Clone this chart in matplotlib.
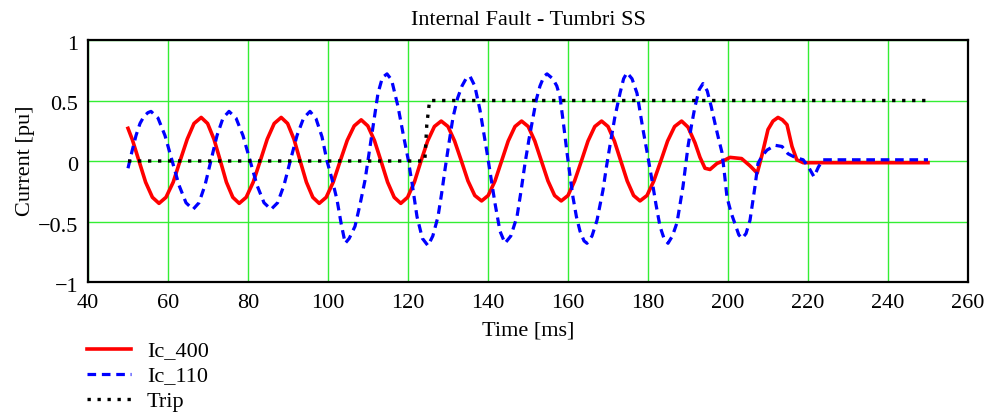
import matplotlib
matplotlib.use("Agg")
import matplotlib.pyplot as plt
from matplotlib.transforms import ScaledTranslation

plt.rcParams['font.family'] = ['Liberation Serif', 'DejaVu Serif']

# ---- data ----
t_ic400 = [50, 51.1, 52.75, 54.4, 56.1, 57.75,
           59.5, 61.3, 63.0, 64.8, 66.5, 68.3,
           69.9, 71.5, 73.1, 74.6, 76.2, 77.8,
           79.55, 81.3, 83.05, 84.8, 86.55, 88.3,
           89.9, 91.5, 93.05, 94.6, 96.2, 97.8,
           99.55, 101.3, 103.05, 104.8, 106.55, 108.3,
           109.95, 111.6, 113.25, 114.9, 116.55, 118.2,
           119.9, 121.6, 123.25, 124.9, 126.6, 128.3,
           130.0, 131.65, 133.35, 135.0, 136.7, 138.4,
           140.05, 141.75, 143.4, 145.05, 146.75, 148.4,
           150.05, 151.7, 153.35, 155.0, 156.65, 158.3,
           160.0, 161.65, 163.35, 165.0, 166.7, 168.4,
           170.0, 171.6, 173.2, 174.8, 176.4, 178.0,
           179.75, 181.45, 183.2, 184.9, 186.65, 188.4,
           190.0, 191.75, 193.0, 194.25, 195.5, 197.25, 198.75, 200.5, 203.4,
           205.5, 207.3, 208.5, 210.0, 211.25, 212.5, 213.6, 214.75, 216.0,
           217.2, 218.8, 250]
ic400 = [0.27, 0.175, 0.0, -0.175, -0.30, -0.35,
         -0.30, -0.175, 0.0, 0.18, 0.31, 0.36,
         0.31, 0.18, 0.0, -0.175, -0.30, -0.35,
         -0.30, -0.175, 0.0, 0.18, 0.31, 0.36,
         0.31, 0.18, 0.0, -0.175, -0.30, -0.35,
         -0.30, -0.175, 0.0, 0.17, 0.29, 0.34,
         0.29, 0.17, 0.0, -0.175, -0.30, -0.35,
         -0.30, -0.175, 0.0, 0.165, 0.285, 0.33,
         0.285, 0.165, 0.0, -0.165, -0.285, -0.33,
         -0.285, -0.165, 0.0, 0.165, 0.285, 0.33,
         0.285, 0.165, 0.0, -0.165, -0.285, -0.33,
         -0.285, -0.165, 0.0, 0.165, 0.285, 0.33,
         0.285, 0.165, 0.0, -0.165, -0.285, -0.33,
         -0.285, -0.165, 0.0, 0.165, 0.285, 0.33,
         0.28, 0.15, 0.03, -0.06, -0.07, -0.02, 0.0, 0.03, 0.02,
         -0.04, -0.10, 0.05, 0.26, 0.33, 0.36, 0.34, 0.30, 0.12,
         0.01, -0.014, -0.014]

t_ic110 = [50, 51, 52, 53, 54, 55, 55.75,
           57.5, 59.25, 61.0, 62.75, 64.5, 66.25,
           67.75, 69.25, 70.75, 72.25, 73.75, 75.25,
           77.0, 78.75, 80.5, 82.25, 84.0, 85.75,
           87.4, 89.0, 90.6, 92.25, 93.9, 95.5,
           97.0, 98.5, 99.75, 101.0, 102.25, 103.3, 104.3,
           105.3, 106.75, 108.0, 109.25, 110.25, 111.25, 112.5, 113.6, 114.75,
           115.9, 117.5, 118.75, 120.0, 121.0, 122.25, 123.6, 125.0,
           126.2, 127.5, 128.4, 129.25, 130.25, 131.25, 132.4, 133.5, 134.5, 135.5,
           136.7, 138.0, 139.0, 139.75, 140.8, 141.75, 143.0, 144.25,
           145.7, 147.25, 148.25, 149.25, 150.25, 151.25, 152.1, 153.0, 154.0, 154.75,
           156.2, 157.2, 158.0, 158.9, 159.75, 160.5, 161.25, 162.1, 163.0, 164.0, 164.75,
           166.0, 167.25, 168.75, 169.6, 170.5, 171.7, 173.0, 173.9, 174.75,
           176.0, 177.25, 178.75, 179.9, 181.0, 182.0, 183.0, 184.0, 185.0,
           186.1, 187.25, 188.75, 190.0, 190.9, 191.75, 192.8, 193.75,
           194.8, 195.8, 196.75, 197.6, 198.5, 199.1, 199.75, 200.8, 201.75, 202.7, 203.5,
           204.5, 205.5, 206.75, 207.5, 208.5, 209.75, 211.75, 213.5, 215.0, 216.75,
           218.8, 220.3, 221.5, 222.6, 223.75, 250]
ic110 = [-0.06, 0.08, 0.21, 0.31, 0.37, 0.40, 0.41,
         0.355, 0.21, 0.005, -0.20, -0.345, -0.40,
         -0.345, -0.20, 0.005, 0.21, 0.355, 0.41,
         0.355, 0.21, 0.005, -0.20, -0.345, -0.40,
         -0.345, -0.20, 0.005, 0.21, 0.355, 0.41,
         0.35, 0.20, 0.0, -0.15, -0.32, -0.52, -0.68,
         -0.64, -0.54, -0.36, -0.16, 0.06, 0.28, 0.56, 0.69, 0.72,
         0.67, 0.45, 0.23, 0.02, -0.18, -0.46, -0.64, -0.70,
         -0.62, -0.46, -0.27, -0.07, 0.15, 0.36, 0.52, 0.62, 0.68, 0.70,
         0.62, 0.42, 0.22, 0.07, -0.15, -0.35, -0.58, -0.68,
         -0.62, -0.46, -0.25, -0.02, 0.18, 0.36, 0.51, 0.62, 0.70, 0.72,
         0.68, 0.62, 0.53, 0.30, 0.07, -0.12, -0.30, -0.46, -0.58, -0.66, -0.68,
         -0.62, -0.49, -0.24, -0.05, 0.13, 0.36, 0.56, 0.68, 0.73,
         0.68, 0.56, 0.26, 0.05, -0.16, -0.36, -0.54, -0.64, -0.68,
         -0.62, -0.51, -0.21, 0.12, 0.30, 0.45, 0.59, 0.64,
         0.58, 0.45, 0.31, 0.19, 0.07, -0.10, -0.30, -0.43, -0.52, -0.61, -0.64,
         -0.60, -0.49, -0.21, -0.02, 0.04, 0.09, 0.13, 0.12, 0.06, 0.03,
         0.01, -0.06, -0.13, -0.05, 0.01, 0.01]

t_trip = [50, 124.2, 124.7, 125.4, 250]
trip = [0.0, 0.0, 0.3, 0.5, 0.5]

x_ticks = [40, 60, 80, 100, 120, 140, 160, 180, 200, 220, 240, 260]
y_ticks = [-1, -0.5, 0, 0.5, 1]
y_ticklabels = ['\u22121', '\u22120.5', '0', '0.5', '1']

# ---- figure ----
fig = plt.figure(figsize=(9.88, 4.18), dpi=100)
ax = fig.add_axes([88/988, 1-282/418, 880/988, 242/418])

ax.plot(t_ic400, ic400, color='#ff0000', lw=2.6, label='Ic_400', zorder=3)
ax.plot(t_ic110, ic110, color='#0000ff', lw=2.3, linestyle=(0, (2.7, 1.8)),
        label='Ic_110', zorder=4)
ax.plot(t_trip, trip, color='black', lw=2.4, linestyle=(0, (1, 2)),
        label='Trip', zorder=5)

ax.set_xlim(40, 260)
ax.set_ylim(-1, 1)
ax.set_xticks(x_ticks)
ax.set_yticks(y_ticks)
ax.set_yticklabels(y_ticklabels)
ax.grid(True, color='#33ee33', lw=1.0)
ax.set_axisbelow(True)
ax.tick_params(length=0, labelsize=16)
ax.tick_params(axis='x', pad=8.5)
ax.tick_params(axis='y', pad=7)
for lab in ax.get_yticklabels():
    lab.set_transform(lab.get_transform() + ScaledTranslation(0, -3/100, fig.dpi_scale_trans))
for s in ax.spines.values():
    s.set_linewidth(1.6)
    s.set_color('black')

ax.set_title('Internal Fault - Tumbri SS', fontsize=16, pad=11)
ax.set_xlabel('Time [ms]', fontsize=16, labelpad=6)
ax.set_ylabel('Current [pu]', fontsize=16, labelpad=2)

fig.legend(loc='upper left', bbox_to_anchor=(87/988, 1-341/418), frameon=False,
           fontsize=16, handlelength=2.0, handletextpad=0.7, labelspacing=0.2,
           borderaxespad=0, borderpad=0)

fig.savefig('out.png', dpi=100)
